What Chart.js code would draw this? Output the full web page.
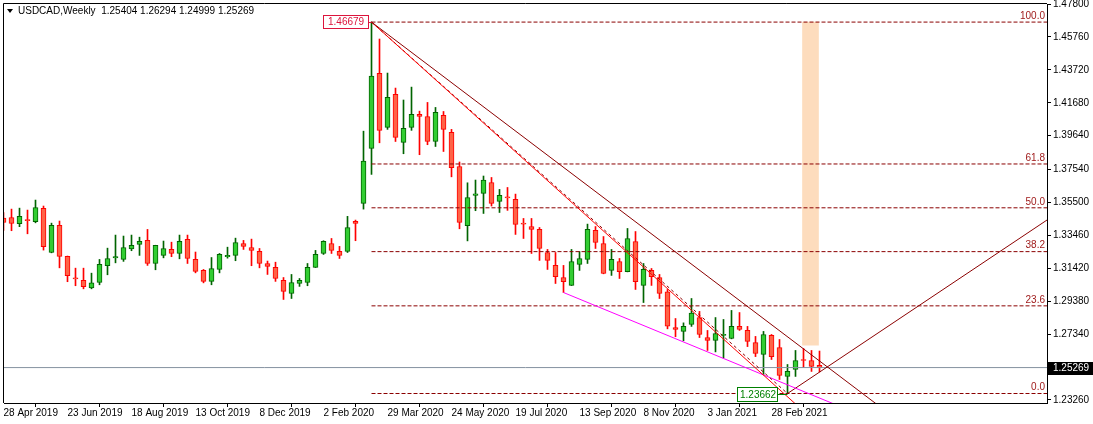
<!DOCTYPE html>
<html><head><meta charset="utf-8">
<script src="https://cdn.jsdelivr.net/npm/chart.js@4"></script>
<style>html,body{margin:0;padding:0;background:#fff;overflow:hidden}#wrap{width:1093px;height:424px;position:relative}</style>
</head><body><div id="wrap"><canvas id="c"></canvas></div>
<script>
// ---- data ----
const headerText = 'USDCAD,Weekly  1.25404 1.26294 1.24999 1.25269';
const dateLabels = ['28 Apr 2019','23 Jun 2019','18 Aug 2019','13 Oct 2019','8 Dec 2019','2 Feb 2020','29 Mar 2020','24 May 2020','19 Jul 2020','13 Sep 2020','8 Nov 2020','3 Jan 2021','28 Feb 2021'];
const dateLabelWeeks = [0,8,16,24,32,40,48,56,64,72,80,88,96];
const yTickValues = [1.478,1.4576,1.4372,1.4168,1.3964,1.3754,1.355,1.3346,1.3142,1.2938,1.2734,1.2326];
const opens  = [1.3453,1.3457,1.3418,1.3440,1.3431,1.3513,1.3240,1.3408,1.3216,1.3080,1.3067,1.3021,1.3054,1.3158,1.3207,1.3197,1.3263,1.3290,1.3315,1.3172,1.3222,1.3259,1.3234,1.3321,1.3197,1.3129,1.3061,1.3135,1.3214,1.3222,1.3296,1.3271,1.3247,1.3172,1.3148,1.3067,1.2986,1.3048,1.3054,1.3148,1.3234,1.3296,1.3247,1.3247,1.3433,1.3544,1.3885,1.4350,1.4015,1.4220,1.3922,1.4015,1.4096,1.4083,1.3928,1.4090,1.3984,1.3773,1.3406,1.3594,1.3606,1.3674,1.3557,1.3583,1.3569,1.3422,1.3401,1.3383,1.3240,1.3160,1.3085,1.3036,1.3166,1.3197,1.3377,1.3296,1.3129,1.3184,1.3122,1.3308,1.3036,1.3129,1.3085,1.2996,1.2775,1.2751,1.2794,1.2837,1.2713,1.2695,1.2726,1.2707,1.2782,1.2757,1.2682,1.2608,1.2726,1.2651,1.2472,1.2515,1.2577,1.2571,1.25404];
const highs  = [1.3488,1.3509,1.3515,1.3503,1.3565,1.3528,1.3422,1.3435,1.3218,1.3143,1.3143,1.3112,1.3197,1.3267,1.3348,1.3342,1.3348,1.3335,1.3383,1.3285,1.3311,1.3304,1.3348,1.3348,1.3243,1.3135,1.3209,1.3234,1.3273,1.3329,1.3315,1.3323,1.3265,1.3187,1.3180,1.3085,1.3104,1.3079,1.3172,1.3253,1.3313,1.3327,1.3278,1.3464,1.3441,1.3992,1.46679,1.4563,1.4352,1.4259,1.4185,1.4265,1.4116,1.4170,1.4139,1.4114,1.4003,1.3801,1.3672,1.3689,1.3714,1.3705,1.3631,1.3643,1.3602,1.3451,1.3451,1.3395,1.3259,1.3240,1.3160,1.3259,1.3246,1.3416,1.3401,1.3339,1.3259,1.3203,1.3389,1.3370,1.3172,1.3141,1.3104,1.3011,1.2831,1.2804,1.2955,1.2875,1.2757,1.2837,1.2825,1.2881,1.2868,1.2782,1.2720,1.2751,1.2732,1.2701,1.2546,1.2633,1.2645,1.2633,1.26294];
const lows   = [1.3377,1.3375,1.3400,1.3356,1.3424,1.3255,1.3238,1.3145,1.3059,1.3034,1.3015,1.3015,1.3040,1.3102,1.3176,1.3185,1.3251,1.3222,1.3160,1.3133,1.3207,1.3214,1.3201,1.3172,1.3114,1.3052,1.3040,1.3114,1.3205,1.3189,1.3259,1.3158,1.3145,1.3104,1.3061,1.2949,1.2955,1.3030,1.3034,1.3147,1.3228,1.3234,1.3203,1.3240,1.3313,1.3509,1.3724,1.3920,1.4003,1.3928,1.3852,1.3997,1.3846,1.3908,1.3897,1.3866,1.3709,1.3387,1.3312,1.3499,1.3482,1.3528,1.3488,1.3501,1.3352,1.3327,1.3234,1.3191,1.3135,1.3048,1.2992,1.3035,1.3129,1.3172,1.3265,1.3108,1.3098,1.3079,1.3120,1.3011,1.2930,1.3036,1.2955,1.2767,1.2718,1.2693,1.2782,1.2713,1.2633,1.2624,1.2587,1.2705,1.2757,1.2657,1.2595,1.2484,1.2577,1.2453,1.23662,1.2472,1.2527,1.2503,1.24999];
const closes = [1.3426,1.3420,1.3464,1.3438,1.3519,1.3276,1.3408,1.3216,1.3096,1.3077,1.3028,1.3052,1.3166,1.3203,1.3214,1.3271,1.3284,1.3309,1.3172,1.3284,1.3265,1.3234,1.3309,1.3203,1.3123,1.3061,1.3141,1.3228,1.3222,1.3302,1.3278,1.3253,1.3172,1.3154,1.3079,1.2999,1.3054,1.3067,1.3148,1.3228,1.3309,1.3253,1.3222,1.3395,1.3420,1.3806,1.4334,1.3997,1.4201,1.3953,1.4009,1.4096,1.4083,1.3928,1.4108,1.4003,1.3765,1.3426,1.3581,1.3603,1.3689,1.3544,1.3594,1.3579,1.3414,1.3416,1.3383,1.3265,1.3191,1.3091,1.3060,1.3184,1.3203,1.3383,1.3302,1.3110,1.3197,1.3122,1.3327,1.3060,1.3135,1.3091,1.2986,1.2784,1.2763,1.2782,1.2864,1.2732,1.2695,1.2738,1.2732,1.2782,1.2763,1.2689,1.2614,1.2732,1.2595,1.2478,1.2503,1.2571,1.2571,1.2534,1.25269];
const fibHighWeek = 46, fibHighPrice = 1.46679;
const fibLowWeek = 98, fibLowPrice = 1.23662;
const fibLevels = [100, 61.8, 50, 38.2, 23.6, 0];
const lastPrice = 1.25269;
const upperTrendWeeks = [46, 110], upperTrendPrices = [1.46679, 1.22679];
const redTrendWeeks = [46, 100], redTrendPrices = [1.46679, 1.22568];
const magentaWeeks = [70, 105], magentaPrices = [1.2992, 1.2277];
const risingWeeks = [98, 131], risingPrices = [1.23662, 1.3460];
const zoneWeek = 100.875, zonePrices = [1.2666, 1.46679];

// ---- styles ----
const FONT = "'Liberation Sans', Arial, sans-serif";
const UP_FILL = '#32cd32', UP_LINE = '#006400';
const DN_FILL = '#ff6347', DN_LINE = '#ff0000';
const FIB_COLOR = '#8b0000';
const X_MIN = 0.0625, X_MAX = 0.0625 + 1043/8;
const Y_MAX = 1.478, Y_MIN = 1.23074;

const isUp = i => closes[i] >= opens[i];
const idx = opens.map((_, i) => i);

function seg(ws, ps) { return ws.map((w, k) => ({x: w, y: ps[k]})); }
function lineDS(data, color, dash, order) {
  return {type:'line', data, borderColor: color, borderWidth: 1, borderDash: dash || [],
    pointRadius: 0, tension: 0, fill: false, clip: 0, order: order ?? 0};
}

const fibPrice = l => fibLowPrice + (fibHighPrice - fibLowPrice) * l / 100;
const datasets = [];
fibLevels.forEach(l => datasets.push(lineDS(seg([fibHighWeek, X_MAX + 1], [fibPrice(l), fibPrice(l)]), FIB_COLOR, [4, 2], 1)));
datasets.push(lineDS(seg([X_MIN - 1, X_MAX + 1], [lastPrice, lastPrice]), '#8592a0', [], 2));
datasets.push(lineDS(seg(upperTrendWeeks, upperTrendPrices), '#8b0000', [], 0));
datasets.push(lineDS(seg(redTrendWeeks, redTrendPrices), '#ff0000', [], 0));
datasets.push(lineDS(seg([fibHighWeek, fibLowWeek], [fibHighPrice, fibLowPrice]), '#8b0000', [3, 3], 0));
datasets.push(lineDS(seg(magentaWeeks, magentaPrices), '#ff00ff', [], 0));
datasets.push(lineDS(seg(risingWeeks, risingPrices), '#8b0000', [], 0));
datasets.push({type:'bar', data: idx.map(i => ({x: i, y: [opens[i], closes[i]]})),
  backgroundColor: idx.map(i => isUp(i) ? UP_FILL : DN_FILL),
  borderColor: idx.map(i => isUp(i) ? UP_LINE : DN_LINE),
  borderWidth: 1, borderSkipped: false, barThickness: 5, minBarLength: 1, grouped: false, order: 3});
datasets.push({type:'bar', data: idx.map(i => ({x: i, y: [lows[i], highs[i]]})),
  backgroundColor: idx.map(i => isUp(i) ? UP_LINE : DN_LINE),
  borderWidth: 0, barThickness: 1, grouped: false, order: 4});
datasets.push({type:'bar', data: [{x: zoneWeek, y: zonePrices}], backgroundColor: '#fddcbd',
  borderWidth: 0, barThickness: 16, grouped: false, order: 5});

const overlay = {
  id: 'overlay',
  afterDraw(chart) {
    const ctx = chart.ctx, a = chart.chartArea, xs = chart.scales.x, ys = chart.scales.y;
    ctx.save();
    ctx.font = '10px ' + FONT;
    ctx.textBaseline = 'middle';
    // frame
    ctx.strokeStyle = '#000'; ctx.lineWidth = 1;
    ctx.beginPath();
    ctx.moveTo(a.left - 0.5, a.bottom); ctx.lineTo(a.left - 0.5, a.top - 0.5); ctx.lineTo(a.right, a.top - 0.5);
    ctx.stroke();
    // header
    ctx.fillStyle = '#000';
    ctx.beginPath(); ctx.moveTo(7, 9); ctx.lineTo(13, 9); ctx.lineTo(10, 13); ctx.closePath(); ctx.fill();
    ctx.textAlign = 'left';
    ctx.fillText(headerText, 18, 11);
    // fib level labels
    ctx.fillStyle = '#a01c1c'; ctx.textAlign = 'right'; ctx.textBaseline = 'bottom';
    fibLevels.forEach(l => ctx.fillText(l.toFixed(1), a.right - 2, ys.getPixelForValue(fibPrice(l)) - 1));
    ctx.textBaseline = 'middle';
    // high label box
    const hx = xs.getPixelForValue(fibHighWeek), hy = ys.getPixelForValue(fibHighPrice);
    let t = fibHighPrice.toFixed(5), tw = ctx.measureText(t).width;
    let bw = Math.round(tw + 10), bx = Math.round(hx) - 3 - bw, by = Math.round(hy) - 7;
    ctx.fillStyle = '#fff'; ctx.fillRect(bx, by, bw, 14);
    ctx.strokeStyle = '#dc143c'; ctx.strokeRect(bx + 0.5, by + 0.5, bw - 1, 13);
    ctx.beginPath(); ctx.moveTo(bx + bw, by + 7.5); ctx.lineTo(hx, by + 7.5); ctx.stroke();
    ctx.fillStyle = '#dc143c'; ctx.textAlign = 'left'; ctx.fillText(t, bx + 5, by + 7.5);
    // low label box
    const lx = xs.getPixelForValue(fibLowWeek), ly = ys.getPixelForValue(fibLowPrice);
    t = fibLowPrice.toFixed(5); tw = ctx.measureText(t).width;
    bw = Math.round(tw + 5); bx = Math.round(lx) - 10 - bw; by = Math.round(ly) - 7;
    ctx.fillStyle = '#fff'; ctx.fillRect(bx, by, bw, 15);
    ctx.strokeStyle = '#008000'; ctx.strokeRect(bx + 0.5, by + 0.5, bw - 1, 14);
    ctx.beginPath(); ctx.moveTo(bx + bw, by + 7.5); ctx.lineTo(lx, by + 7.5); ctx.stroke();
    ctx.fillStyle = '#008000'; ctx.fillText(t, bx + 3, by + 8);
    // current price tag on axis
    const py = Math.round(ys.getPixelForValue(lastPrice));
    ctx.fillStyle = '#000'; ctx.fillRect(a.right + 1, py - 6, 46, 13);
    ctx.fillStyle = '#fff'; ctx.fillText(lastPrice.toFixed(5), a.right + 6, py + 0.5);
    ctx.restore();
  }
};

Chart.defaults.font.family = FONT;
Chart.defaults.font.size = 10;
Chart.defaults.color = '#000';

function noPad(s) { s.paddingTop = 0; s.paddingBottom = 0; s.paddingLeft = 0; s.paddingRight = 0; }

new Chart(document.getElementById('c'), {
  data: { datasets },
  options: {
    responsive: true, maintainAspectRatio: false, animation: false,
    layout: { padding: { top: 4, left: 4, right: 0, bottom: 0 } },
    plugins: { legend: { display: false }, tooltip: { enabled: false } },
    scales: {
      x: { type: 'linear', min: X_MIN, max: X_MAX, offset: false,
        afterFit: s => { s.height = 21; noPad(s); },
        afterBuildTicks: s => { s.ticks = dateLabelWeeks.map(v => ({ value: v })); },
        ticks: { autoSkip: false, maxRotation: 0, align: 'start', padding: 0,
          callback: (v, i) => dateLabels[i] },
        grid: { drawOnChartArea: false, tickLength: 4, color: '#000' },
        border: { color: '#000' } },
      y: { type: 'linear', position: 'right', min: Y_MIN, max: Y_MAX,
        afterFit: s => { s.width = 46; noPad(s); },
        afterBuildTicks: s => { s.ticks = yTickValues.map(v => ({ value: v })); },
        ticks: { autoSkip: false, padding: 2, callback: v => v.toFixed(5) },
        grid: { drawOnChartArea: false, tickLength: 4, color: '#000' },
        border: { color: '#000' } }
    }
  },
  plugins: [overlay]
});
</script></body></html>
